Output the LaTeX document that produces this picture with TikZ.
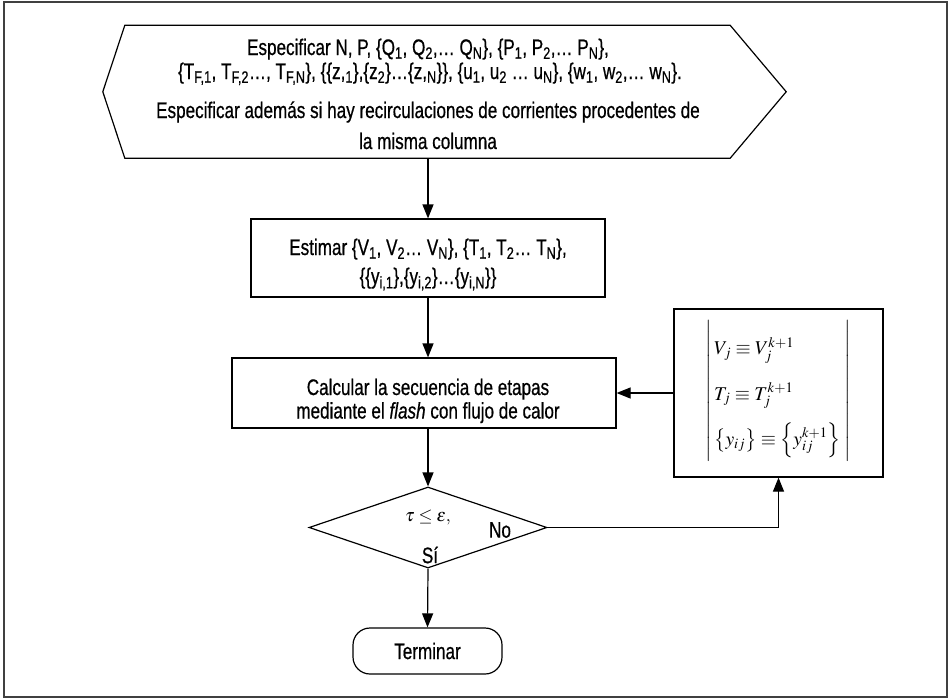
\documentclass[tikz,border=0pt]{standalone}
\usepackage{mathptmx}
\usepackage[no-math]{fontspec}
\setmainfont{Liberation Sans}[FakeStretch=0.76,FakeBold=0.6]
\usetikzlibrary{arrows.meta,shapes.geometric,calc}
\newcommand{\subt}[1]{\textsubscript{#1}}
\begin{document}
\begin{tikzpicture}[x=1pt,y=-1pt,
  every node/.style={font=\fontsize{22.5}{26}\selectfont, inner sep=0pt},
  shapeline/.style={draw=black, line width=1.2pt},
  conn/.style={line width=1.2pt, -{Triangle[length=14pt,width=11pt]}},
  procbox/.style={shapeline, rectangle},
  txt/.style={anchor=base}]
\useasboundingbox (0,0) rectangle (948,699);
\draw[line width=1.5pt, black!75] (4,2) rectangle (947,697);

% hexagon
\node[minimum width=605pt, minimum height=132.5pt] (hex) at (427.5,91.75) {};
\draw[shapeline] (hex.north west) -- (hex.north east) -- ([xshift=56pt]hex.east)
  -- (hex.south east) -- (hex.south west) -- ([xshift=-22pt]hex.west) -- cycle;
\node[txt] (l1) at (428,55) {Especificar N, P, \{Q\subt{1}, Q\subt{2},\dots\ Q\subt{N}\}, \{P\subt{1}, P\subt{2},\dots\ P\subt{N}\},};
\node[txt] (l2) at (430,79) {\{T\subt{F,1}, T\subt{F,2}\dots, T\subt{F,N}\}, \{\{z,\subt{1}\},\{z\subt{2}\}\dots\{z,\subt{N}\}\}, \{u\subt{1}, u\subt{2} \dots\ u\subt{N}\}, \{w\subt{1}, w\subt{2},\dots\ w\subt{N}\}.};
\node[txt] (l3) at (428,118) {Especificar además si hay recirculaciones de corrientes procedentes de};
\node[txt] (l4) at (428,149) {la misma columna};

% box 2
\node[procbox, minimum width=354pt, minimum height=78pt] (b2) at (428,258) {};
\node[txt] (b2a) at (428,255) {Estimar \{V\subt{1}, V\subt{2}\dots\ V\subt{N}\}, \{T\subt{1}, T\subt{2}\dots\ T\subt{N}\},};
\node[txt] (b2b) at (428,284) {\{\{y\subt{i,1}\},\{y\subt{i,2}\}\dots\{y\subt{i,N}\}\}};

% box 3
\node[procbox, minimum width=384pt, minimum height=70pt] (b3) at (424,393) {};
\node[txt] (b3a) at (428,395) {Calcular la secuencia de etapas};
\node[txt] (b3b) at (428,418.5) {mediante el \textit{flash} con flujo de calor};

% box 4
\node[procbox, minimum width=209pt, minimum height=168pt] (b4) at (778.5,393) {};
\node (m) at (778.5,391) {\fontsize{19.5}{22}\selectfont\renewcommand\arraystretch{2.05}%
  $\left|\,\begin{array}{@{}l@{\;}}
  V_{j}\equiv V_{j}^{k+1}\\
  T_{j}\equiv T_{j}^{k+1}\\
  \left\{y_{ij}\right\}\equiv\left\{y_{ij}^{k+1}\right\}
  \end{array}\right|$};

% diamond
\node[shapeline, diamond, minimum width=238pt, minimum height=81pt] (dia) at (428,527.5) {};
\node (tau) at (428,518) {\fontsize{18}{20}\selectfont$\tau\le\varepsilon,$};
\node (no) at (500,530) {No};
\node (si) at (430,555) {Sí};

% terminar
\node[shapeline, rectangle, rounded corners=17pt, minimum width=149pt, minimum height=46pt] (term) at (427.5,651) {Terminar};

% connectors
\draw[conn] (hex.south -| b2.north) -- (b2.north);
\draw[conn] (b2.south) -- (b2.south |- b3.north);
\draw[conn] (b3.south -| b2.south) -- (dia.north);
\draw[conn] (dia.south) -- (term.north);
\draw[conn] (dia.east) -- (dia.east -| b4.south) -- (b4.south);
\draw[conn] (b4.west) -- (b3.east);
\end{tikzpicture}
\end{document}
